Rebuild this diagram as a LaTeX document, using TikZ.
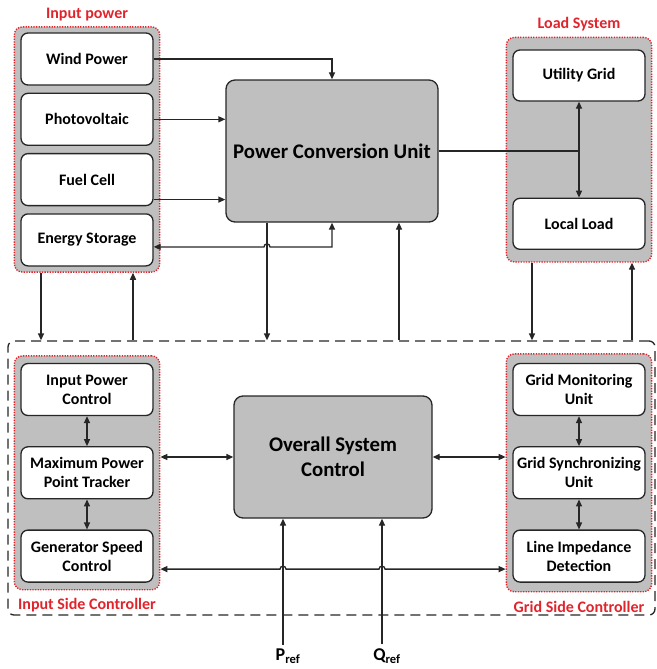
\documentclass[tikz,border=0pt]{standalone}
\usepackage{fontspec}
\setmainfont{Carlito}
\usepackage{tikz}
\usetikzlibrary{arrows.meta, positioning, fit, backgrounds, calc}
\definecolor{boxgray}{HTML}{BFBFBF}
\definecolor{grpred}{HTML}{E0242C}
\definecolor{darkline}{HTML}{262626}

\begin{document}
\begin{tikzpicture}[
  x=1pt, y=-1pt,
  node distance=7pt,
  sb/.style={rectangle, draw=darkline, fill=white, line width=1.3pt,
             minimum width=132pt, minimum height=52pt, rounded corners=7pt,
             font=\fontsize{16}{19}\selectfont\bfseries, align=center},
  mb/.style={rectangle, draw=darkline, fill=boxgray, line width=1.3pt,
             rounded corners=9pt,
             font=\fontsize{20.8}{25}\selectfont\bfseries, align=center},
  grp/.style={rectangle, draw=grpred, fill=boxgray, line width=1.4pt,
              dash pattern=on 1.3pt off 1.3pt, rounded corners=8pt, inner xsep=6pt},
  grplbl/.style={text=grpred, inner sep=1pt, font=\fontsize{16}{18}\selectfont\bfseries},
  ctl/.style={rectangle, draw=darkline, line width=1.3pt,
              dash pattern=on 10pt off 6pt, rounded corners=6pt},
  refl/.style={inner sep=4pt, font=\fontsize{18}{20}\selectfont\bfseries},
  arr/.style={-{Triangle[length=7pt,width=6pt]}, line width=1.3pt, color=darkline},
  arr2/.style={{Triangle[length=7pt,width=6pt]}-{Triangle[length=7pt,width=6pt]},
               line width=1.3pt, color=darkline},
  ln/.style={line width=1.3pt, color=darkline}
]
\useasboundingbox (0,0) rectangle (656,669);

% sources
\node[sb] (wind) at (87,59) {Wind Power};
\node[sb, below=of wind] (pv) {Photovoltaic};
\node[sb, below=of pv] (fc) {Fuel Cell};
\node[sb, below=of fc] (es) {Energy Storage};

\node[mb, minimum width=212pt, minimum height=142pt] (pcu) at (332,151) {Power Conversion Unit};

% load side
\node[sb, minimum height=51pt] (util) at (579,75.5) {Utility Grid};
\node[sb, minimum height=51pt, below=96pt of util] (local) {Local Load};

% controllers
\node[ctl, minimum width=647pt, minimum height=274pt] (ctrl) at (331.5,478) {};
\node[sb] (ipc) at (87,389.5) {Input Power\\Control};
\node[sb, below=30pt of ipc] (mppt) {Maximum Power\\Point Tracker};
\node[sb, below=30pt of mppt] (gen) {Generator Speed\\Control};
\node[mb, minimum width=198pt, minimum height=122pt] (osc) at (333,457) {Overall System\\Control};
\node[sb] (gmu) at (579,389.5) {Grid Monitoring\\Unit};
\node[sb, below=30pt of gmu] (gsu) {Grid Synchronizing\\Unit};
\node[sb, below=30pt of gsu] (lid) {Line Impedance\\Detection};

\begin{scope}[on background layer]
\node[grp, fit=(wind)(es), inner ysep=5.5pt] (inpgrp) {};
\node[grp, fit=(util)(local), inner ysep=12pt] (loadgrp) {};
\node[grp, fit=(ipc)(gen), inner ysep=7pt] (isgrp) {};
\node[grp, fit=(gmu)(lid), inner ysep=9pt] (gsgrp) {};
\end{scope}

\node[grplbl, above=4pt of inpgrp] (inplbl) {Input power};
\node[grplbl, above=4pt of loadgrp] (loadlbl) {Load System};
\node[grplbl, below=7pt of isgrp] (islbl) {Input Side Controller};
\node[grplbl, below=8pt of gsgrp] (gslbl) {Grid Side Controller};

\node[refl] (pref) at (288,656) {P\textsubscript{ref}};
\node[refl] (qref) at (387,656) {Q\textsubscript{ref}};

% helper points
\coordinate (fco) at ([yshift=-20pt]fc.east);
\coordinate (eso) at ([yshift=-7pt]es.east);
\coordinate (pd) at ([xshift=-65pt]pcu.south);
\coordinate (pu) at ([xshift=67pt]pcu.south);
\coordinate (i1) at ([xshift=-46pt]inpgrp.south);
\coordinate (i2) at ([xshift=46pt]inpgrp.south);
\coordinate (l1) at ([xshift=-47pt]loadgrp.south);
\coordinate (l2) at ([xshift=53pt]loadgrp.south);
\coordinate (gl) at ([yshift=-13pt]gen.east);
\coordinate (pin) at ([xshift=-5pt]pref.north);
\coordinate (qin) at ([xshift=-5pt]qref.north);

% power flow
\draw[arr] (wind.east) -| (pcu.north);
\draw[arr] (pv.east) -- (pv.east -| pcu.west);
\draw[arr] (fco) -- (fco -| pcu.west);
\draw[arr2] (pcu.south) -- (pcu.south |- eso)
  -- ($(eso -| pd)+(3,0)$) arc[start angle=0, end angle=180, radius=3pt]
  -- (eso -| es.east);
\draw[ln] (pcu.east) -- (pcu.east -| util.south);
\draw[arr2] (util.south) -- (local.north);

% links to control
\draw[arr] (pd) -- (pd |- ctrl.north);
\draw[arr] (pu |- ctrl.north) -- (pu);
\draw[arr] (i1) -- (i1 |- ctrl.north);
\draw[arr] (i2 |- ctrl.north) -- (i2);
\draw[arr] (l1) -- (l1 |- ctrl.north);
\draw[arr] (l2 |- ctrl.north) -- (l2);

% control links
\draw[arr2] (ipc.south) -- (mppt.north);
\draw[arr2] (mppt.south) -- (gen.north);
\draw[arr2] (gmu.south) -- (gsu.north);
\draw[arr2] (gsu.south) -- (lid.north);
\draw[arr2] (osc.west -| isgrp.east) -- (osc.west);
\draw[arr2] (osc.east) -- (osc.east -| gsgrp.west);
\draw[arr2] (gl -| isgrp.east)
  -- ($(gl -| pin)+(-3,0)$) arc[start angle=180, end angle=0, radius=3pt]
  -- ($(gl -| qin)+(-3,0)$) arc[start angle=180, end angle=0, radius=3pt]
  -- (gl -| gsgrp.west);
\draw[arr] (pin) -- (pin |- osc.south);
\draw[arr] (qin) -- (qin |- osc.south);
\end{tikzpicture}
\end{document}
